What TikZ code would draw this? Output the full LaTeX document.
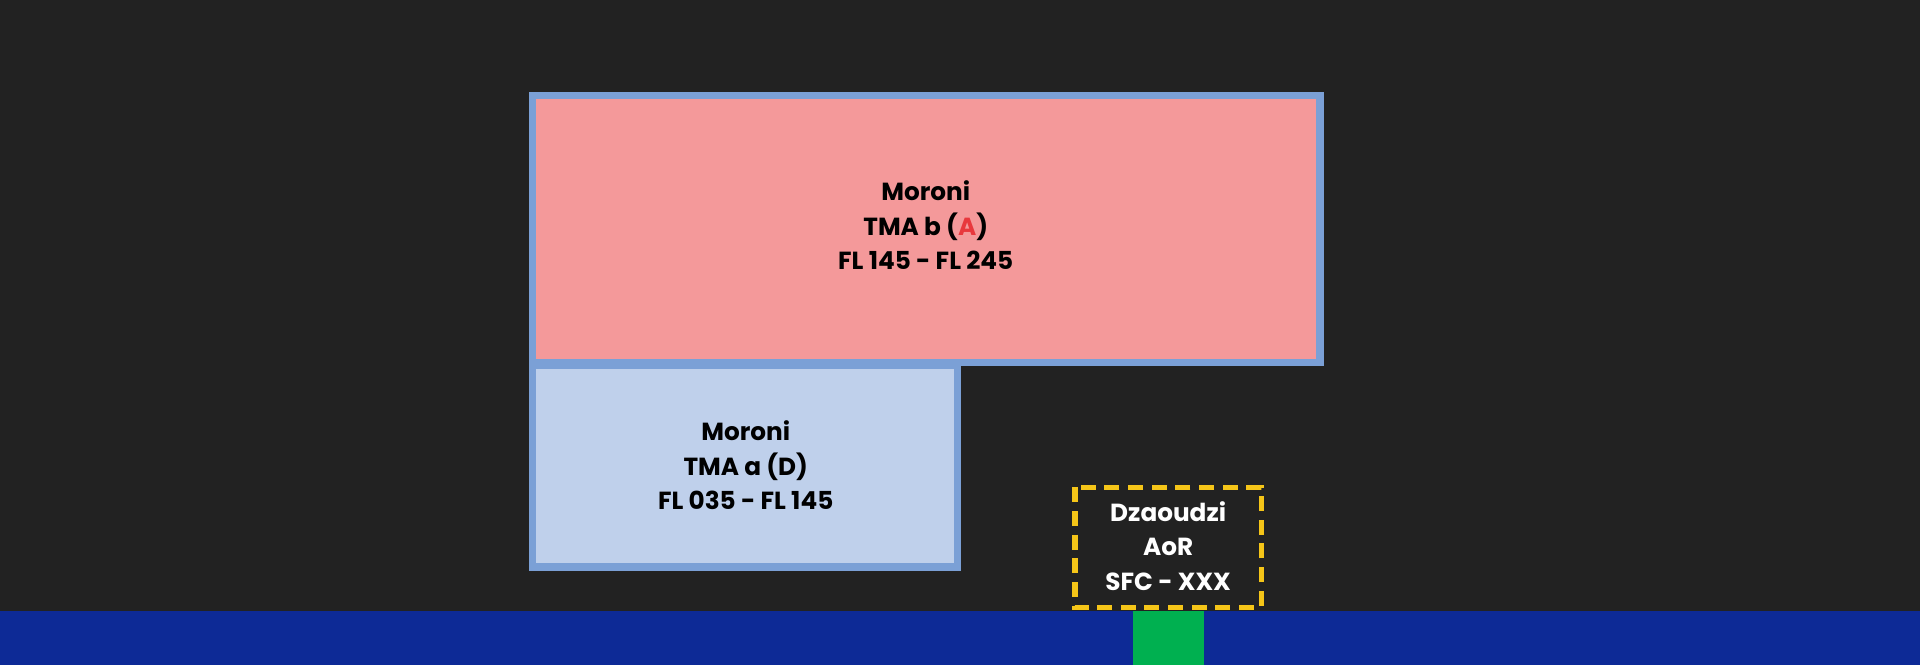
\documentclass[tikz,border=0pt]{standalone}
\usepackage{fontspec}
\setmainfont{Poppins}
\definecolor{bg}{HTML}{222222}
\definecolor{ground}{HTML}{0D2A96}
\definecolor{grn}{HTML}{00B050}
\definecolor{pinkf}{HTML}{F4999A}
\definecolor{bluef}{HTML}{BFD0EB}
\definecolor{edge}{HTML}{7BA0D6}
\definecolor{yel}{HTML}{F5C518}
\definecolor{redA}{HTML}{E8383D}
\begin{document}
\begin{tikzpicture}[x=0.02cm,y=-0.02cm,
  zone/.style={draw=edge,line width=3.5pt},
  lbl/.style={align=center,font=\fontsize{11.5}{16}\selectfont\bfseries}]
\fill[bg] (0,0) rectangle (1568,543);
\useasboundingbox (0,0) rectangle (1568,543);
\fill[ground] (0,499) rectangle (1568,543);
\fill[grn] (925,499) rectangle (983,543);
\draw[zone,fill=pinkf] (435,78) rectangle (1078,296);
\draw[zone,fill=bluef] (435,298) rectangle (782,463);
\draw[yel,line width=2.5pt,dash pattern=on 7pt off 4pt] (878,398) rectangle (1030,496);
\node[lbl,text=black] (b) at (756,184) {Moroni\\TMA b (\textcolor{redA}{A})\\FL 145 - FL 245};
\node[lbl,text=black] (a) at (609,380) {Moroni\\TMA a (D)\\FL 035 - FL 145};
\node[lbl,text=white] (d) at (954,446) {Dzaoudzi\\AoR\\SFC - XXX};
\end{tikzpicture}
\end{document}
